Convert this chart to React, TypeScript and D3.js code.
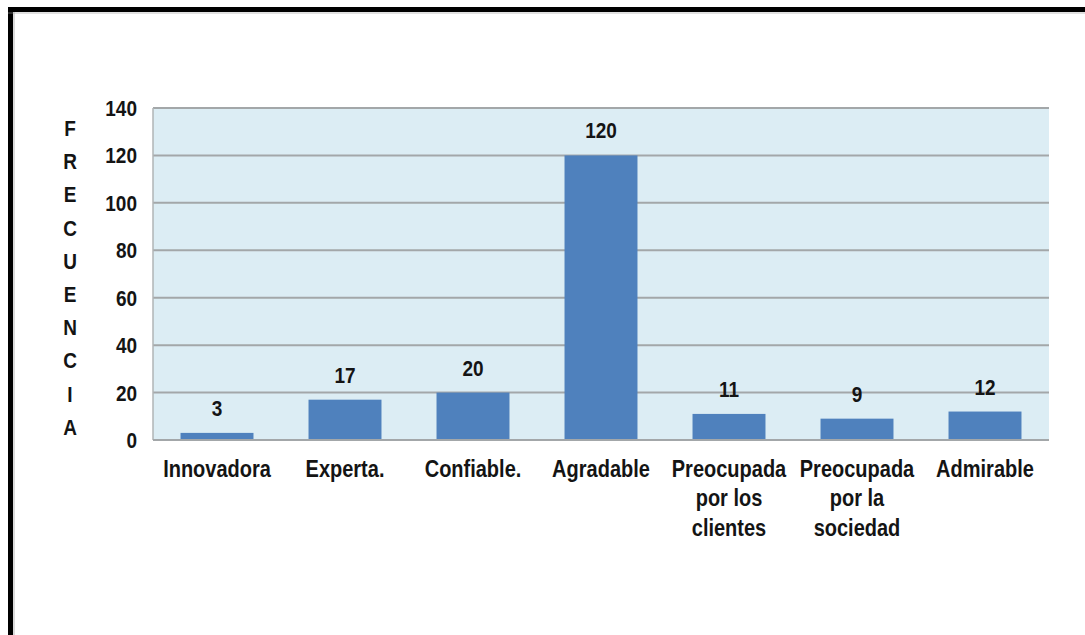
import React from "react";
import * as d3 from "d3";

const categories: string[][] = [
  ["Innovadora"],
  ["Experta."],
  ["Confiable."],
  ["Agradable"],
  ["Preocupada", "por los", "clientes"],
  ["Preocupada", "por la", "sociedad"],
  ["Admirable"],
];
const values: number[] = [3, 17, 20, 120, 11, 9, 12];
const yTicks: number[] = [0, 20, 40, 60, 80, 100, 120, 140];
const axisTitle: string[] = ["F", "R", "E", "C", "U", "E", "N", "C", "I", "A"];

const W = 1085;
const H = 635;
const left = 153;
const right = 1049;
const top = 108;
const bottom = 440;
const SY = 1.2;
const FONT = "'Liberation Sans', Arial, sans-serif";
const TXT = "#141414";

function STxt({ x, y, size, anchor = "middle", children }: any) {
  return (
    <g transform={`translate(${x},${y}) scale(1,${SY})`}>
      <text x={0} y={0} textAnchor={anchor} fontSize={size} fontWeight="bold" fontFamily={FONT} fill={TXT}>
        {children}
      </text>
    </g>
  );
}

export default function App() {
  const idx = categories.map((_, i) => String(i));
  const x = d3.scaleBand<string>().domain(idx).range([left, right]).paddingInner(0.43).paddingOuter(0.215);
  const y = d3.scaleLinear().domain([0, 140]).range([bottom, top]);

  return (
    <svg width={W} height={H} style={{ position: "absolute", left: 0, top: 0, background: "#fff" }}>
      <rect x={0} y={0} width={W} height={H} fill="#fff" />
      {/* frame */}
      <line x1={8} y1={9.5} x2={W} y2={9.5} stroke="#000" strokeWidth={5} />
      <line x1={10.5} y1={7} x2={10.5} y2={H} stroke="#000" strokeWidth={5} />
      <line x1={8} y1={13} x2={W} y2={13} stroke="#999" strokeWidth={1.2} opacity={0.6} />
      <line x1={14} y1={12} x2={14} y2={H} stroke="#999" strokeWidth={1.2} opacity={0.6} />

      {/* plot area */}
      <rect x={left} y={top} width={right - left} height={bottom - top} fill="#dcedf4" />
      {yTicks.filter((t) => t > 0).map((t) => (
        <line key={t} x1={left} x2={right} y1={y(t)} y2={y(t)} stroke="#a3a7a9" strokeWidth={2} />
      ))}
      <line x1={left} x2={left} y1={top} y2={bottom} stroke="#b0b4b6" strokeWidth={1.5} />

      {values.map((v, i) => (
        <rect
          key={i}
          x={x(String(i))!}
          y={y(v)}
          width={x.bandwidth()}
          height={y(0) - y(v)}
          fill="#4f81bd"
        />
      ))}
      <line x1={left} x2={right} y1={bottom} y2={bottom} stroke="#a3a7a9" strokeWidth={2} />

      {values.map((v, i) => (
        <STxt key={"v" + i} x={x(String(i))! + x.bandwidth() / 2} y={y(v) - 17} size={19}>
          {v}
        </STxt>
      ))}

      {yTicks.map((t) => (
        <STxt key={"t" + t} x={137} y={y(t) + 8} size={19} anchor="end">
          {t}
        </STxt>
      ))}

      {axisTitle.map((c, i) => (
        <STxt key={"a" + i} x={70} y={128 + i * 33.2 + 8} size={19}>
          {c}
        </STxt>
      ))}

      {categories.map((lines, i) =>
        lines.map((ln, j) => (
          <STxt key={"c" + i + "_" + j} x={x(String(i))! + x.bandwidth() / 2} y={476.5 + j * 29.5} size={20}>
            {ln}
          </STxt>
        ))
      )}
    </svg>
  );
}
